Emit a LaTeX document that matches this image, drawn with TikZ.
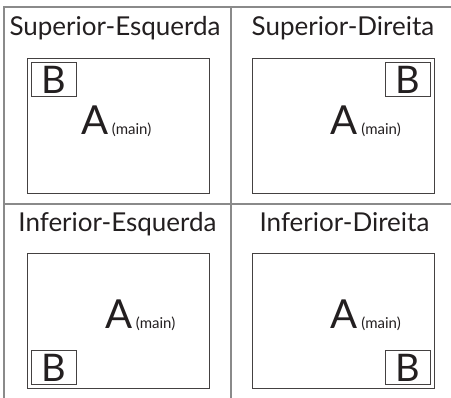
\documentclass[tikz,border=0pt]{standalone}
\usepackage{fontspec}
\setmainfont{Lato}
\usetikzlibrary{positioning}
\definecolor{ink}{HTML}{231F20}
\definecolor{rule}{HTML}{8A8A8A}
\tikzset{
  title/.style={font=\fontsize{26}{26}\selectfont, text=ink, inner sep=0, anchor=base},
  screen/.style={draw=ink!85, line width=0.9pt, minimum width=182pt, minimum height=135pt, inner sep=0},
  pip/.style={draw=ink!85, line width=0.8pt, minimum width=45pt, minimum height=34pt, inner sep=0,
    text=ink, font=\fontsize{38}{38}\selectfont},
  bigA/.style={font=\fontsize{40}{40}\selectfont, text=ink, inner sep=0, anchor=base},
  sub/.style={font=\fontsize{15}{15}\selectfont, text=ink, inner sep=0, anchor=base west}
}
\begin{document}
\begin{tikzpicture}[x=1pt,y=-1pt]
  \useasboundingbox (0,0) rectangle (451,398);
  % grid lines
  \draw[rule, line width=1.3pt] (4,398) -- (4,7) -- (451,7);
  \draw[rule, line width=1.3pt] (231,7) -- (231,398);
  \draw[rule, line width=1.3pt] (4,204) -- (451,204);

  % titles
  \node[title] (t1) at (115,36) {Superior-Esquerda};
  \node[title] (t2) at (343,36) {Superior-Direita};
  \node[title] (t3) at (117.5,232) {Inferior-Esquerda};
  \node[title] (t4) at (344.5,232) {Inferior-Direita};

  % screens
  \node[screen, anchor=north west] (s1) at (27,58) {};
  \node[screen, anchor=north west] (s2) at (252,58) {};
  \node[screen, anchor=north west] (s3) at (27,253) {};
  \node[screen, anchor=north west] (s4) at (252,253) {};

  % picture-in-picture windows
  \node[pip, anchor=north west] (b1) at ([shift={(4,4)}]s1.north west) {B};
  \node[pip, anchor=north east] (b2) at ([shift={(-4,4)}]s2.north east) {B};
  \node[pip, anchor=south west] (b3) at ([shift={(4,-4)}]s3.south west) {B};
  \node[pip, anchor=south east] (b4) at ([shift={(-4,-4)}]s4.south east) {B};

  % main windows
  \node[bigA] (a1) at (95,135) {A};
  \node[bigA] (a2) at (344.5,135) {A};
  \node[bigA] (a3) at (119,329) {A};
  \node[bigA] (a4) at (344.5,329) {A};
  \node[sub] (m1) at ([xshift=3pt]a1.base east) {(main)};
  \node[sub] (m2) at ([xshift=3pt]a2.base east) {(main)};
  \node[sub] (m3) at ([xshift=3pt]a3.base east) {(main)};
  \node[sub] (m4) at ([xshift=3pt]a4.base east) {(main)};
\end{tikzpicture}
\end{document}
